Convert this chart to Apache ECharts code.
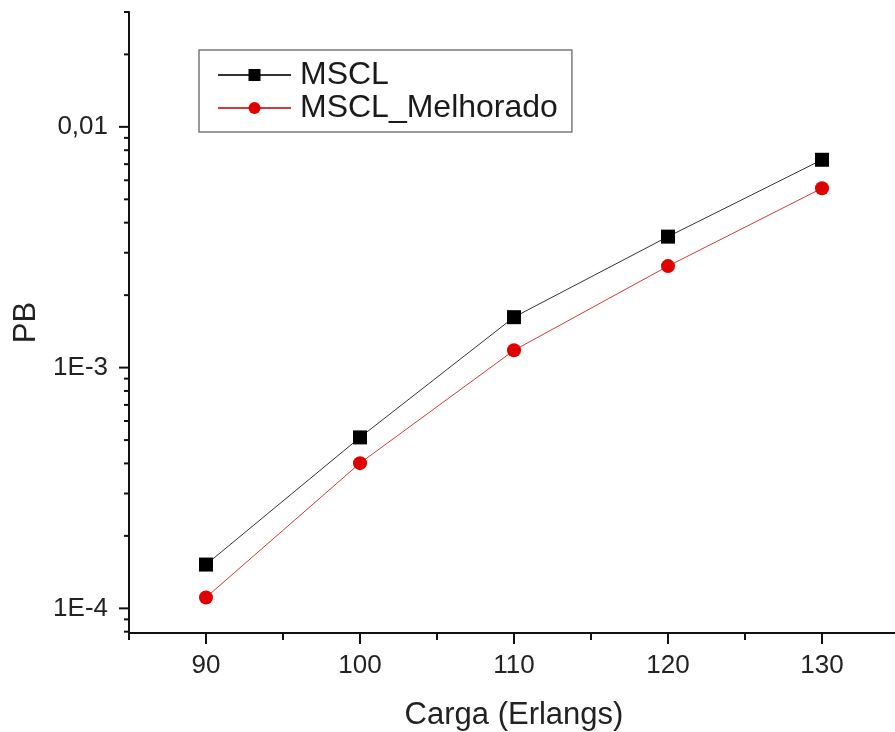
<!DOCTYPE html>
<html>
<head>
<meta charset="utf-8">
<script src="https://cdn.jsdelivr.net/npm/echarts@6/dist/echarts.min.js"></script>
<style>
html,body{margin:0;padding:0;background:#fff;}
#chart{width:895px;height:732px;}
</style>
</head>
<body>
<div id="chart"></div>
<script>
// ---- data ----
const categories = [90, 100, 110, 120, 130];
const seriesNames = ['MSCL', 'MSCL_Melhorado'];
const msclValues = [1.52e-4, 5.13e-4, 1.62e-3, 3.50e-3, 7.30e-3];
const melhoradoValues = [1.11e-4, 4.01e-4, 1.18e-3, 2.64e-3, 5.56e-3];

// ---- axis ticks / labels ----
const xMin = 85, xMax = 135;
const yMin = 7.9e-5, yMax = 0.03;
const xMajorTicks = [90, 100, 110, 120, 130];
const xMinorTicks = [85, 95, 105, 115, 125, 135];
const yMajorTicks = [1e-4, 1e-3, 1e-2];
const yTickLabels = ['1E-4', '1E-3', '0,01'];
const yMinorTicks = [8e-5, 9e-5,
  2e-4, 3e-4, 4e-4, 5e-4, 6e-4, 7e-4, 8e-4, 9e-4,
  2e-3, 3e-3, 4e-3, 5e-3, 6e-3, 7e-3, 8e-3, 9e-3,
  2e-2, 3e-2];
const xTitle = 'Carga (Erlangs)';
const yTitle = 'PB';

const FONT = '"Liberation Sans", Arial, sans-serif';

function zip(xs, ys) { return xs.map((x, i) => [x, ys[i]]); }

function tickSeries(values, isY, len) {
  return {
    type: 'custom',
    silent: true,
    clip: false,
    z: 10,
    legendHoverLink: false,
    data: values.map(v => isY ? [xMin, v] : [v, yMin]),
    renderItem: function (params, api) {
      const cs = params.coordSys;
      const p = api.coord([api.value(0), api.value(1)]);
      let shape;
      if (isY) {
        shape = { x1: cs.x - len, y1: p[1], x2: cs.x, y2: p[1] };
      } else {
        const yb = cs.y + cs.height;
        shape = { x1: p[0], y1: yb, x2: p[0], y2: yb + len };
      }
      return { type: 'line', shape: shape, style: { stroke: '#111', lineWidth: 2 } };
    }
  };
}

const chart = echarts.init(document.getElementById('chart'), null, { renderer: 'canvas' });
chart.setOption({
  backgroundColor: '#ffffff',
  animation: false,
  textStyle: { fontFamily: FONT },
  grid: { left: 129, top: 12, width: 770, height: 621, containLabel: false, outerBoundsMode: 'none' },
  legend: {
    data: seriesNames,
    orient: 'vertical',
    left: 199,
    top: 50,
    padding: [9, 14, 8, 18],
    itemGap: 1,
    itemWidth: 73,
    itemHeight: 15,
    borderColor: '#7a7a7a',
    borderWidth: 1.5,
    textStyle: { fontSize: 32, color: '#1a1a1a', fontFamily: FONT, padding: [0, 0, 0, 4] }
  },
  xAxis: {
    type: 'value',
    min: xMin,
    max: xMax,
    splitNumber: 5,
    splitLine: { show: false },
    axisLine: { show: true, onZero: false, lineStyle: { color: '#111', width: 2 } },
    axisTick: { show: false },
    axisLabel: {
      fontSize: 26, color: '#222', margin: 20, fontFamily: FONT,
      formatter: function (v) { return xMajorTicks.indexOf(Math.round(v)) >= 0 && Math.abs(v - Math.round(v)) < 1e-9 ? String(Math.round(v)) : ''; }
    },
    name: xTitle,
    nameLocation: 'middle',
    nameGap: 67,
    nameTextStyle: { fontSize: 31, color: '#222', fontFamily: FONT }
  },
  yAxis: {
    type: 'log',
    logBase: 10,
    min: yMin,
    max: yMax,
    splitLine: { show: false },
    axisLine: { show: true, lineStyle: { color: '#111', width: 2 } },
    axisTick: { show: false },
    axisLabel: {
      fontSize: 26, color: '#222', margin: 21, fontFamily: FONT,
      formatter: function (v) {
        for (let i = 0; i < yMajorTicks.length; i++) {
          if (Math.abs(Math.log10(v) - Math.log10(yMajorTicks[i])) < 1e-6) return yTickLabels[i];
        }
        return '';
      }
    },
    name: yTitle,
    nameLocation: 'middle',
    nameRotate: 90,
    nameGap: 86,
    nameTextStyle: { fontSize: 31, color: '#222', fontFamily: FONT }
  },
  series: [
    {
      name: seriesNames[0],
      type: 'line',
      data: zip(categories, msclValues),
      symbol: 'rect',
      symbolSize: 14,
      itemStyle: { color: '#000' },
      lineStyle: { color: '#333', width: 1 },
      z: 3
    },
    {
      name: seriesNames[1],
      type: 'line',
      data: zip(categories, melhoradoValues),
      symbol: 'circle',
      symbolSize: 14,
      itemStyle: { color: '#e00000' },
      lineStyle: { color: '#d23a3a', width: 1 },
      z: 2
    },
    tickSeries(yMajorTicks, true, 10),
    tickSeries(yMinorTicks, true, 5),
    tickSeries(xMajorTicks, false, 11),
    tickSeries(xMinorTicks, false, 7)
  ]
});
</script>
</body>
</html>
